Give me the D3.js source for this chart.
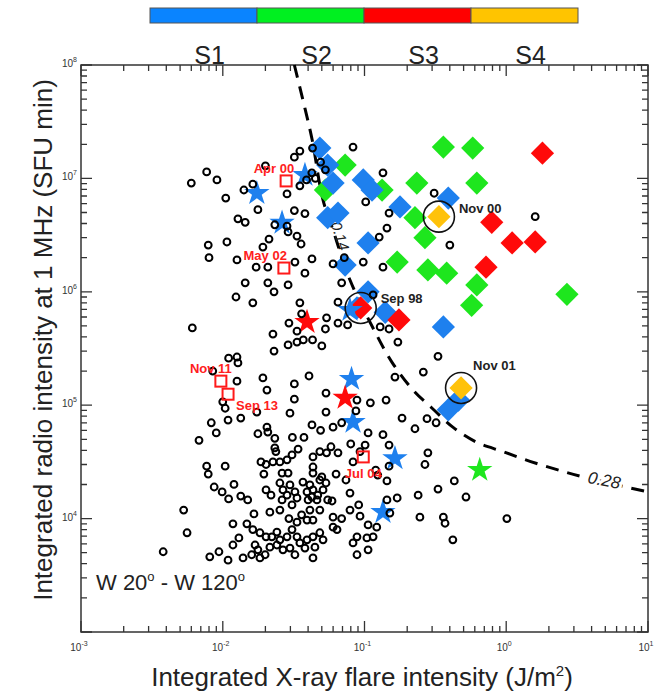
<!DOCTYPE html>
<html>
<head>
<meta charset="utf-8">
<script src="https://cdn.jsdelivr.net/npm/d3@7/dist/d3.min.js"></script>
<style>
  body { margin: 0; background: #fff; }
  svg { font-family: "Liberation Sans", Arial, Helvetica, sans-serif; }
</style>
</head>
<body>
<script>
/* storm classes (colour bar) */
var stormClasses = ["S1", "S2", "S3", "S4"];
var stormColors = ["#0a84ff", "#00f020", "#ff0000", "#ffc400"];

/* all events W20-W120: [X-ray fluence J/m2, 1 MHz radio SFU min] */
var allEvents = [
  [6.0e-3,9.1e6],[7.7e-3,1.14e7],[9.1e-3,9.7e6],[1.05e-2,6.7e6],[1.41e-2,7.9e6],[1.63e-2,8.9e6],[2.0e-2,1.29e7],
  [3.2e-2,1.54e7],[3.5e-2,1.74e7],[4.3e-2,1.85e7],[4.9e-2,1.39e7],[5.3e-2,1.19e7],[4.25e-2,1.12e7],[4.5e-2,1.0e7],
  [3.9e-2,9.7e6],[3.5e-2,8.6e6],[8.3e-2,1.89e7],[1.77e-2,5.3e6],[1.28e-2,4.4e6],[1.44e-2,4.1e6],[2.84e-2,7.3e6],
  [3.2e-2,5.2e6],[3.8e-2,4.9e6],[0.102,6.2e6],[0.149,4.95e6],[0.144,3.65e6],[0.127,3.04e6],[7.9e-3,2.58e6],
  [1.07e-2,2.75e6],[8.0e-3,2.0e6],[1.26e-2,1.91e6],[1.92e-2,2.48e6],[2.12e-2,2.92e6],[2.89e-2,3.37e6],[3.34e-2,3.1e6],
  [3.57e-2,2.64e6],[3.23e-2,1.83e6],[4.26e-2,1.95e6],[1.72e-2,1.65e6],[2.08e-2,1.65e6],[3.8e-2,1.46e6],[1.44e-2,1.2e6],
  [2.08e-2,1.2e6],[2.89e-2,1.15e6],[2.3e-2,1.0e6],[1.24e-2,9.0e5],[1.63e-2,8.0e5],[3.5e-2,8.0e5],[3.6e-2,6.4e5],
  [6.0e-2,1.76e6],[7.2e-2,2.0e6],[9.8e-2,1.83e6],[0.135,1.65e6],[6.9e-2,1.2e6],[6.5e-2,8.1e5],[0.115,9.4e5],
  [6.1e-3,4.8e5],[2.93e-2,5.3e5],[3.34e-2,4.5e5],[2.26e-2,4.24e5],[5.4e-2,5.9e5],[5.3e-2,4.7e5],[6.5e-2,5.3e5],
  [7.6e-2,5.1e5],[0.129,4.9e5],[0.149,4.7e5],[3.7e-2,3.76e5],[4.3e-2,3.76e5],[5.0e-2,3.33e5],[3.34e-2,3.6e5],
  [2.89e-2,3.4e5],[2.3e-2,3.0e5],[1.1e-2,2.6e5],[1.26e-2,2.66e5],[1.28e-2,2.36e5],[2.33e-2,3.9e6],[2.84e-2,3.8e6],
  [0.172,3.6e5],[0.31,7.4e6],[0.40,2.58e6],[1.6,4.6e6],[0.135,1.12e7],
  [3.8e-3,5.1e3],[5.3e-3,1.19e4],[5.6e-3,7.5e3],[6.8e-3,4.9e4],[8.3e-3,7.0e4],[9.0e-3,5.7e4],[7.7e-3,2.9e4],
  [7.9e-3,2.47e4],[1.04e-2,2.9e4],[8.7e-3,1.9e4],[9.9e-3,1.72e4],[1.1e-2,1.49e4],[1.2e-2,2.0e4],[1.34e-2,1.58e4],
  [1.5e-2,1.46e4],[8.5e-3,2.0e5],[1.26e-2,1.63e5],[1.0e-2,1.07e5],[1.04e-2,9.4e4],[1.09e-2,7.4e4],[1.34e-2,7.7e4],
  [1.74e-2,8.7e4],[1.92e-2,1.74e5],[2.05e-2,1.36e5],[4.06e-2,1.81e5],[3.2e-2,1.54e5],[3.2e-2,1.13e5],[2.98e-2,8.5e4],
  [5.35e-2,1.28e5],[5.35e-2,8.7e4],[4.26e-2,6.7e4],[4.9e-2,6.0e4],[6.0e-2,6.4e4],[6.9e-2,7.0e4],[2.05e-2,6.4e4],
  [2.08e-2,5.8e4],[1.77e-2,5.6e4],[2.33e-2,5.1e4],[2.33e-2,4.2e4],[2.37e-2,3.9e4],[3.1e-2,5.2e4],[3.74e-2,5.2e4],
  [3.4e-2,4.1e4],[1.86e-2,3.16e4],[2.02e-2,3.0e4],[1.95e-2,2.47e4],[2.26e-2,3.16e4],[2.53e-2,3.16e4],[2.84e-2,3.3e4],
  [3.08e-2,3.64e4],[2.62e-2,2.52e4],[2.89e-2,2.52e4],[2.02e-2,1.79e4],[2.19e-2,1.61e4],[2.53e-2,2.06e4],[2.66e-2,1.79e4],
  [2.84e-2,1.61e4],[2.62e-2,1.46e4],[2.98e-2,1.98e4],[3.23e-2,1.72e4],[3.34e-2,1.52e4],[3.08e-2,1.32e4],[2.15e-2,1.14e4],
  [2.53e-2,1.19e4],[3.68e-2,2.1e4],[4.12e-2,1.98e4],[3.93e-2,1.72e4],[4.33e-2,1.79e4],[4.26e-2,1.55e4],[4.68e-2,1.61e4],
  [4.0e-2,1.46e4],[4.62e-2,1.46e4],[5.1e-2,1.79e4],[4.84e-2,2.19e4],[5.35e-2,2.06e4],[5.5e-2,1.46e4],[4.33e-2,2.52e4],
  [5.0e-2,2.33e4],[4.84e-2,1.19e4],[4.12e-2,1.19e4],[3.6e-2,1.08e4],[3.93e-2,9.7e3],[4.33e-2,9.7e3],[2.93e-2,1.0e4],
  [3.34e-2,9.3e3],[3.08e-2,8.0e3],[1.63e-2,8.0e3],[1.83e-2,7.5e3],[2.02e-2,6.9e3],[2.22e-2,6.9e3],[2.41e-2,7.6e3],
  [2.53e-2,6.5e3],[2.84e-2,6.9e3],[3.34e-2,6.9e3],[3.5e-2,6.1e3],[3.93e-2,6.5e3],[4.33e-2,6.9e3],[4.84e-2,7.5e3],
  [5.1e-2,6.5e3],[4.47e-2,5.6e3],[3.8e-2,5.5e3],[1.69e-2,5.85e3],[1.77e-2,5.3e3],[1.6e-2,4.8e3],[1.83e-2,4.5e3],
  [1.99e-2,4.8e3],[2.15e-2,5.6e3],[2.41e-2,5.85e3],[2.66e-2,5.3e3],[2.98e-2,5.5e3],[3.23e-2,4.8e3],[4.33e-2,4.5e3],
  [6.0e-2,8.4e3],[6.4e-2,8.0e3],[6.9e-2,1.0e4],[6.0e-2,1.03e4],[7.9e-2,1.19e4],[9.1e-2,1.32e4],[9.3e-2,1.05e4],
  [0.106,8.8e3],[0.115,6.9e3],[0.122,8.4e3],[0.104,6.75e3],[8.85e-2,6.9e3],[8.3e-2,6.1e3],[8.85e-2,4.8e3],
  [0.106,5.3e3],[8.0e-2,4.55e4],[6.5e-2,3.8e4],[8.3e-2,3.16e4],[9.3e-2,3.9e4],[0.106,5.7e4],[0.101,4.45e4],
  [7.4e-2,2.19e4],[7.9e-2,1.68e4],[0.144,1.46e4],[0.151,1.12e4],[0.124,2.42e4],[0.144,2.15e4],[0.17,1.52e4],
  [0.135,5.5e4],[0.149,4.45e4],[8.85e-2,1.11e5],[8.7e-2,8.9e4],[0.142,1.11e5],[0.33,2.7e5],[0.26,1.96e5],
  [0.164,1.77e5],[0.11,1.05e5],[0.184,7.7e4],[0.227,6.2e4],[0.276,7.6e4],[0.32,7.0e4],[0.28,3.8e4],[0.267,3.0e4],
  [6.3e-2,2.47e4],[0.43,2.15e4],[0.33,1.82e4],[0.239,1.61e4],[0.52,1.55e4],[0.246,1.03e4],[0.36,1.03e4],[0.37,9.1e3],
  [1.01,1.0e4],[0.42,6.5e3],[5.9e-2,1.43e4],[4.33e-2,3.5e4],[4.84e-2,3.9e4],[5.4e-2,3.8e4],[5.8e-2,4.3e4],
  [4.33e-2,2.85e4],[0.12,2.68e4],[0.149,2.9e4],[8.1e-3,4.6e3],[9.4e-3,5.1e3],[1.09e-2,4.3e3],[1.18e-2,9.0e3],
  [1.3e-2,6.75e3],[1.18e-2,5.85e3],[1.48e-2,9.0e3],[1.66e-2,1.1e4],[1.39e-2,4.5e3]
];

/* SEP events with storm class (diamonds) */
var sepS1 = [[4.84e-2,1.85e7],[5.5e-2,1.31e7],[6.0e-2,9.1e6],[9.8e-2,9.7e6],[0.113,7.9e6],[0.178,5.6e6],[0.39,6.7e6],
  [5.5e-2,4.5e6],[6.5e-2,4.95e6],[0.106,2.7e6],[7.3e-2,1.72e6],[0.106,1.0e6],[0.14,6.6e5],[0.36,4.9e5],[8.85e-2,7.2e5],
  [0.46,1.11e5],[0.39,9.1e4]];
var sepS2 = [[0.36,1.89e7],[0.58,1.85e7],[0.234,9.1e6],[0.62,9.1e6],[7.3e-2,1.31e7],[0.133,7.9e6],[5.3e-2,7.9e6],
  [0.227,4.5e6],[0.267,3.0e6],[0.17,1.83e6],[0.28,1.56e6],[0.38,1.46e6],[0.62,1.15e6],[0.57,7.6e5],[2.68,9.5e5]];
var sepS3 = [[1.8,1.67e7],[0.79,4.1e6],[1.1,2.7e6],[1.6,2.75e6],[0.72,1.65e6],[0.175,5.65e5],[9.4e-2,7.2e5]];
var sepS4 = [[0.335,4.6e6],[0.48,1.42e5]];

/* stars */
var starS1 = [[1.74e-2,7.4e6],[2.62e-2,4.05e6],[3.8e-2,1.07e7],[8.1e-2,1.7e5],[8.3e-2,7.1e4],[0.164,3.4e4],[0.135,1.14e4],[7.9e-2,6.9e5]];
var starS3 = [[3.93e-2,5.4e5],[7.3e-2,1.16e5]];
var starS2 = [[0.65,2.68e4]];

/* labelled events without storm (open squares) */
var squareNames = ["Apr 00", "May 02", "Nov 11", "Sep 13", "Jul 04"];
var squareX = [2.8e-2, 2.7e-2, 9.7e-3, 1.09e-2, 9.8e-2];
var squareY = [9.5e6, 1.62e6, 1.63e5, 1.25e5, 3.5e4];

/* circled events */
var circledNames = ["Nov 00", "Sep 98", "Nov 01"];
var circledX = [0.335, 9.4e-2, 0.48];
var circledY = [4.6e6, 7.2e5, 1.42e5];

/* discriminant curve */
var curveX = [0.032, 0.0368, 0.0427, 0.0509, 0.060, 0.079, 0.119, 0.156, 0.22, 0.30, 0.42, 0.62, 0.95, 1.47, 2.28, 3.48, 10];
var curveY = [1e8, 4.9e7, 2.2e7, 6.5e6, 3.5e6, 1.27e6, 4.4e5, 2.4e5, 1.36e5, 9.4e4, 6.4e4, 4.7e4, 3.9e4, 3.2e4, 2.7e4, 2.33e4, 1.72e4];

var W = 656, H = 694;
var L = 81, R = 648, T = 65, B = 632;

var svg = d3.select("body").append("svg")
  .attr("width", W).attr("height", H);

var x = d3.scaleLog().domain([1e-3, 10]).range([L, R]);
var y = d3.scaleLog().domain([1e3, 1e8]).range([B, T]);

/* colour bar */
var band = d3.scaleBand().domain(stormClasses).range([150, 578]);
var bar = svg.append("g").attr("class", "colorbar");
bar.selectAll("rect").data(stormClasses).enter().append("rect")
  .attr("x", d => band(d)).attr("y", 8)
  .attr("width", band.bandwidth()).attr("height", 15)
  .attr("fill", (d, i) => stormColors[i])
  .attr("stroke", "#555").attr("stroke-width", 1);
bar.selectAll("text").data(stormClasses).enter().append("text")
  .attr("x", d => band(d) + band.bandwidth() / 2 + 6).attr("y", 64)
  .attr("text-anchor", "middle").attr("font-size", 25).attr("fill", "#222")
  .text(d => d);

/* frame and ticks, ticks pointing inwards on all four sides */
var axisColor = "#333";
function isMajor(v) { return Math.abs(Math.log10(v) - Math.round(Math.log10(v))) < 1e-6; }
function tickLen(v) { return isMajor(v) ? 11 : 6; }
var xTicks = x.ticks(), yTicks = y.ticks();

var tickPath = "";
xTicks.forEach(function (v) {
  var px = x(v).toFixed(1), len = tickLen(v);
  tickPath += "M" + px + "," + B + "V" + (B - len);
  tickPath += "M" + px + "," + T + "V" + (T + len);
});
yTicks.forEach(function (v) {
  var py = y(v).toFixed(1), len = tickLen(v);
  tickPath += "M" + L + "," + py + "H" + (L + len);
  tickPath += "M" + R + "," + py + "H" + (R - len);
});
svg.append("path").attr("d", tickPath)
  .attr("fill", "none").attr("stroke", axisColor).attr("stroke-width", 1.3);

svg.append("rect").attr("x", L).attr("y", T).attr("width", R - L).attr("height", B - T)
  .attr("fill", "none").attr("stroke", axisColor).attr("stroke-width", 1.5);

/* tick labels 10^n */
function powLabel(g, px, py, n, anchor) {
  var t = g.append("text").attr("x", px).attr("y", py).attr("text-anchor", anchor)
    .attr("font-size", 10).attr("fill", "#333");
  t.append("tspan").text("10");
  t.append("tspan").attr("dy", -5).attr("font-size", 7).text(n);
}
var labels = svg.append("g");
xTicks.filter(isMajor).forEach(function (v) {
  powLabel(labels, x(v) - 2, 651, Math.round(Math.log10(v)), "middle");
});
yTicks.filter(isMajor).forEach(function (v) {
  if (v <= 1e3) return;
  powLabel(labels, L - 4, y(v) + 2, Math.round(Math.log10(v)), "end");
});

/* axis titles */
var xt = svg.append("text").attr("x", 362).attr("y", 686).attr("text-anchor", "middle")
  .attr("font-size", 26).attr("fill", "#222");
xt.append("tspan").text("Integrated X-ray flare intensity (J/m");
xt.append("tspan").attr("dy", -10).attr("font-size", 15).text("2");
xt.append("tspan").attr("dy", 10).text(")");

svg.append("text").attr("transform", "translate(52,340) rotate(-90)")
  .attr("text-anchor", "middle").attr("font-size", 26).attr("fill", "#222")
  .text("Integrated radio intensity at 1 MHz (SFU min)");

/* region label */
var wt = svg.append("text").attr("x", 96).attr("y", 590).attr("font-size", 22).attr("fill", "#222");
wt.append("tspan").text("W 20");
wt.append("tspan").attr("dy", -9).attr("font-size", 13).text("o");
wt.append("tspan").attr("dy", 9).text(" - W 120");
wt.append("tspan").attr("dy", -9).attr("font-size", 13).text("o");

/* dashed curve */
var curve = curveX.map((v, i) => [v, curveY[i]]);
svg.append("path").datum(curve)
  .attr("d", d3.line().x(d => x(d[0])).y(d => y(d[1])).curve(d3.curveCatmullRom))
  .attr("fill", "none").attr("stroke", "#000").attr("stroke-width", 3)
  .attr("stroke-dasharray", "13,9");

svg.append("text").attr("transform", "translate(" + x(0.062) + "," + y(3.0e6) + ") rotate(72)")
  .attr("font-size", 15).attr("font-style", "italic").attr("fill", "#222")
  .attr("text-anchor", "middle").text("0.14");

svg.append("text").attr("transform", "translate(" + x(4.9) + "," + y(2.15e4) + ") rotate(11)")
  .attr("font-size", 17).attr("font-style", "italic").attr("fill", "#222")
  .attr("text-anchor", "middle").attr("dy", 5)
  .attr("stroke", "#fff").attr("stroke-width", 6).attr("paint-order", "stroke")
  .text("0.28");

/* diamonds */
var diamond = d3.symbol(d3.symbolSquare, 270);
function drawDiamonds(data, color) {
  svg.append("g").selectAll("path").data(data).enter().append("path")
    .attr("d", diamond)
    .attr("transform", d => "translate(" + x(d[0]) + "," + y(d[1]) + ") rotate(45)")
    .attr("fill", color);
}
drawDiamonds(sepS2, "#1ee61e");
drawDiamonds(sepS1, "#1e80ee");
drawDiamonds(sepS3, "#ff0a0a");
drawDiamonds(sepS4, "#ffc20a");

/* stars */
var star = d3.symbol(d3.symbolStar, 200);
function drawStars(data, color) {
  svg.append("g").selectAll("path").data(data).enter().append("path")
    .attr("d", star)
    .attr("transform", d => "translate(" + x(d[0]) + "," + y(d[1]) + ")")
    .attr("fill", color);
}
drawStars(starS1, "#1e80ee");
drawStars(starS3, "#ff0a0a");
drawStars(starS2, "#1ee61e");

/* all events, open circles */
svg.append("g").selectAll("circle").data(allEvents).enter().append("circle")
  .attr("cx", d => x(d[0])).attr("cy", d => y(d[1])).attr("r", 3.4)
  .attr("fill", "none").attr("stroke", "#000").attr("stroke-width", 2);

/* open red squares with labels */
var sqLabel = {
  "Apr 00": [8, -8, "end"], "May 02": [3, -8, "end"], "Nov 11": [11, -8, "end"],
  "Sep 13": [8, 16, "start"], "Jul 04": [0, 21, "middle"]
};
var sq = svg.append("g");
squareNames.forEach(function (name, i) {
  var px = x(squareX[i]), py = y(squareY[i]);
  sq.append("rect").attr("x", px - 5.5).attr("y", py - 5.5).attr("width", 11).attr("height", 11)
    .attr("fill", "none").attr("stroke", "#ff1a1a").attr("stroke-width", 2);
  var o = sqLabel[name];
  sq.append("text").attr("x", px + o[0]).attr("y", py + o[1]).attr("text-anchor", o[2])
    .attr("font-size", 13).attr("font-weight", "bold").attr("fill", "#ff2020").text(name);
});

/* circled events */
var ciLabel = { "Nov 00": [20, -4], "Sep 98": [20, -5], "Nov 01": [12, -18] };
var ci = svg.append("g");
circledNames.forEach(function (name, i) {
  var px = x(circledX[i]), py = y(circledY[i]);
  ci.append("circle").attr("cx", px).attr("cy", py).attr("r", 15.5)
    .attr("fill", "none").attr("stroke", "#111").attr("stroke-width", 1.6);
  ci.append("text").attr("x", px + ciLabel[name][0]).attr("y", py + ciLabel[name][1])
    .attr("font-size", 13).attr("font-weight", "bold").attr("fill", "#222").text(name);
});
</script>
</body>
</html>
